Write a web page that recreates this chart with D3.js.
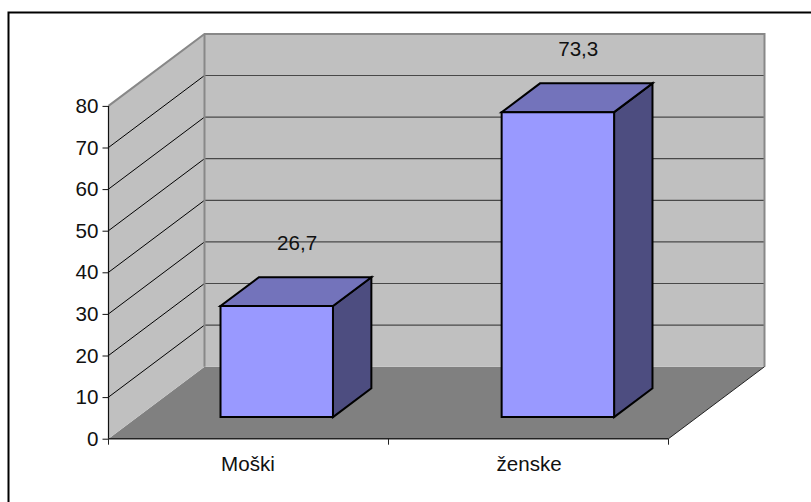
<!DOCTYPE html>
<html>
<head>
<meta charset="utf-8">
<script src="https://cdn.jsdelivr.net/npm/d3@7"></script>
<style>
html,body{margin:0;padding:0;background:#fff;}
svg{display:block;}
text{font-family:"Liberation Sans",Arial,sans-serif;fill:#111;}
</style>
</head>
<body>
<svg id="chart" width="811" height="502"></svg>
<script>
// Chart values
const categories = ["Moški", "ženske"];
const values = [26.7, 73.3];
const valueLabels = ["26,7", "73,3"];
const yTicks = [0, 10, 20, 30, 40, 50, 60, 70, 80];

// Oblique projection: the floor recedes by (depthX, depthY) from front to back
const depthX = 96, depthY = -72;
const project = (p, z) => [p[0] + z * depthX, p[1] + z * depthY];

const x = d3.scaleBand().domain(categories).range([108.5, 668.5])
  .paddingInner(0.6).paddingOuter(0.296);
const y = d3.scaleLinear().domain([0, 80]).range([438.7, 105.9]);

const barFront = 0.3, barBack = 0.7;   // bar depth as a share of the floor
const fontSize = 20.6;

const svg = d3.select("#chart");
const line = d3.line();
const closed = pts => line(pts) + "Z";

// Outer frame, open towards the right and bottom edges
svg.append("path").attr("d", line([[8.5, 502], [8.5, 12.5], [811, 12.5]]))
  .attr("fill", "none").attr("stroke", "#000").attr("stroke-width", 2);

const x0 = x.range()[0], x1 = x.range()[1];
const y0 = y(0), yTop = y(80);

// Floor
svg.append("path")
  .attr("d", closed([[x0, y0], [x1, y0], project([x1, y0], 1), project([x0, y0], 1)]))
  .attr("fill", "#808080");

// Side wall and back wall
svg.append("path")
  .attr("d", closed([[x0, y0], project([x0, y0], 1), project([x0, yTop], 1), [x0, yTop]]))
  .attr("fill", "#c0c0c0");
svg.append("path")
  .attr("d", closed([project([x0, y0], 1), project([x1, y0], 1), project([x1, yTop], 1), project([x0, yTop], 1)]))
  .attr("fill", "#c0c0c0");

// Gridlines across both walls
const inner = yTicks.filter(t => t > 0 && t < 80);
svg.selectAll(".grid-side").data(inner).join("path").attr("class", "grid-side")
  .attr("d", t => line([[x0, y(t)], project([x0, y(t)], 1)]))
  .attr("stroke", "#000").attr("stroke-width", 1).attr("fill", "none");
svg.selectAll(".grid-back").data(inner).join("path").attr("class", "grid-back")
  .attr("d", t => line([project([x0, y(t)], 1), project([x1, y(t)], 1)]))
  .attr("stroke", "#484848").attr("stroke-width", 1.2).attr("fill", "none");

// Grey outline of the walls
svg.append("path")
  .attr("d", line([[x0, yTop], project([x0, yTop], 1), project([x1, yTop], 1), project([x1, y0], 1)]))
  .attr("fill", "none").attr("stroke", "#888").attr("stroke-width", 2);
svg.append("path")
  .attr("d", line([project([x0, yTop], 1), project([x0, y0], 1)]))
  .attr("fill", "none").attr("stroke", "#888").attr("stroke-width", 2);

// Right edge of the floor
svg.append("path")
  .attr("d", line([[x1, y0], project([x1, y0], 1)]))
  .attr("fill", "none").attr("stroke", "#222").attr("stroke-width", 1);

// Bars: front, top and side faces
const bars = svg.selectAll(".bar").data(categories.map((c, i) => ({ c, v: values[i], label: valueLabels[i] })))
  .join("g").attr("class", "bar");
const face = (d, a, b, zA, zB) => [
  project([a, y(0)], zA), project([b, y(0)], zB), project([b, y(d.v)], zB), project([a, y(d.v)], zA)
];
const faceStyle = sel => sel.attr("stroke", "#000").attr("stroke-width", 2).attr("stroke-linejoin", "miter");

bars.append("path")
  .attr("d", d => closed(face(d, x(d.c) + x.bandwidth(), x(d.c) + x.bandwidth(), barFront, barBack)))
  .attr("fill", "#4d4d80").call(faceStyle);
bars.append("path")
  .attr("d", d => {
    const l = x(d.c), r = l + x.bandwidth(), t = y(d.v);
    return closed([project([l, t], barFront), project([r, t], barFront), project([r, t], barBack), project([l, t], barBack)]);
  })
  .attr("fill", "#7373bb").call(faceStyle);
bars.append("path")
  .attr("d", d => closed(face(d, x(d.c), x(d.c) + x.bandwidth(), barFront, barFront)))
  .attr("fill", "#9999ff").call(faceStyle);

// Value labels above each bar
bars.append("text")
  .attr("x", d => project([x(d.c) + x.bandwidth() / 2, y(d.v)], barBack)[0] - 18)
  .attr("y", d => project([0, y(d.v)], barBack)[1] - 27)
  .attr("text-anchor", "middle").attr("font-size", fontSize).text(d => d.label);

// Value axis
const yAxis = svg.append("g").attr("transform", `translate(${x0},0)`)
  .call(d3.axisLeft(y).tickValues(yTicks).tickSize(6).tickPadding(4).tickFormat(d3.format("d")));
yAxis.select(".domain").attr("stroke", "#111").attr("stroke-width", 1.2).attr("d", `M0,${y0}V${yTop}`);
yAxis.selectAll("line").attr("stroke", "#111").attr("stroke-width", 1);
yAxis.selectAll("text").attr("font-size", fontSize).attr("font-family", null);

// Category axis
const xAxis = svg.append("g").attr("transform", `translate(0,${y0})`)
  .call(d3.axisBottom(x).tickSize(0).tickPadding(17.5));
xAxis.select(".domain").attr("stroke", "#222").attr("stroke-width", 1.5).attr("d", `M${x0},0H${x1}`);
xAxis.selectAll("text").attr("font-size", fontSize).attr("font-family", null);
xAxis.selectAll(".edge").data([x0, (x0 + x1) / 2, x1]).join("line").attr("class", "edge")
  .attr("x1", d => d).attr("x2", d => d).attr("y1", 0).attr("y2", 6)
  .attr("stroke", "#222").attr("stroke-width", 1);
</script>
</body>
</html>
